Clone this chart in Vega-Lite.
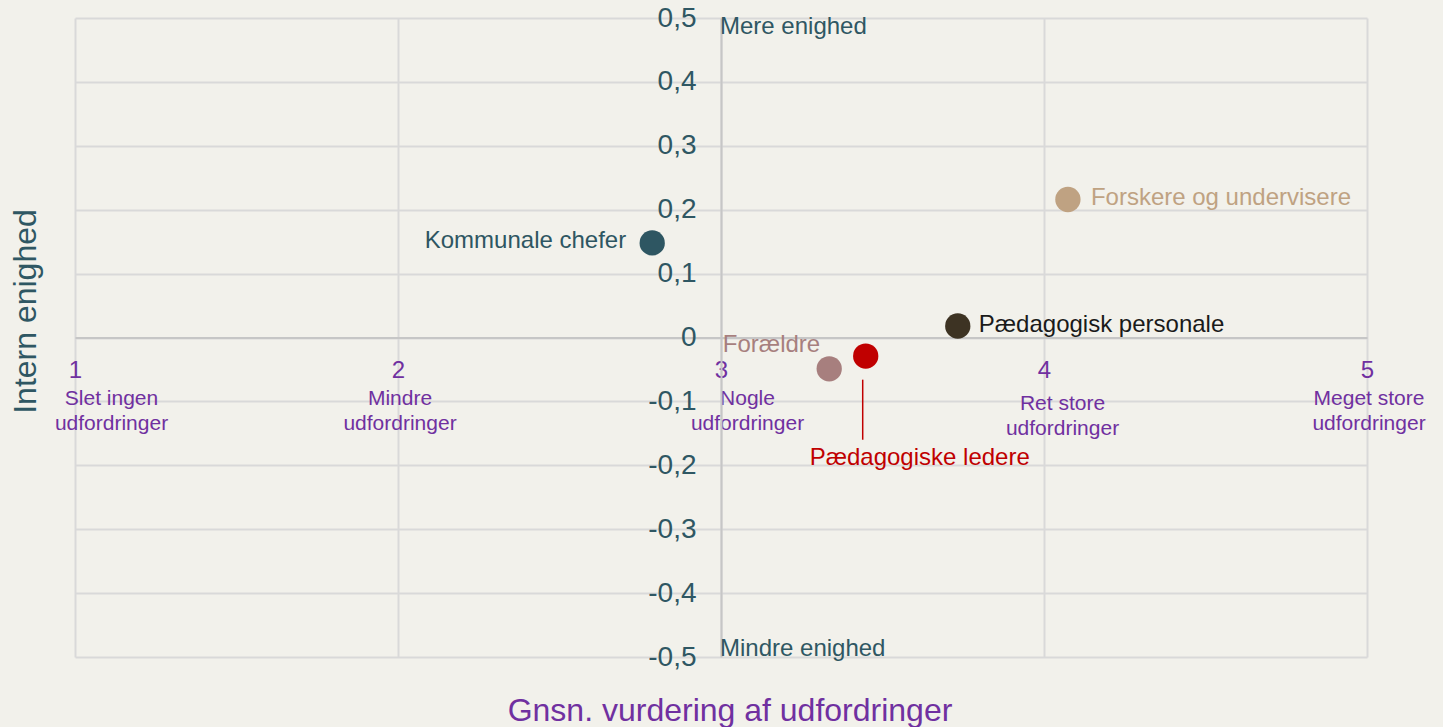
{
  "$schema": "https://vega.github.io/schema/vega-lite/v6.json",
  "width": 1292,
  "height": 639,
  "autosize": {"type": "none"},
  "padding": {"left": 75, "top": 18, "right": 76, "bottom": 70},
  "background": "#f2f1eb",
  "config": {"font": "Liberation Sans", "view": {"stroke": null}},
  "datasets": {
    "groups": [
      {"gruppe": "Kommunale chefer", "udfordringer": 2.787, "enighed": 0.148},
      {"gruppe": "Forskere og undervisere", "udfordringer": 4.074, "enighed": 0.216},
      {"gruppe": "Pædagogisk personale", "udfordringer": 3.733, "enighed": 0.018},
      {"gruppe": "Forældre", "udfordringer": 3.335, "enighed": -0.049},
      {"gruppe": "Pædagogiske ledere", "udfordringer": 3.448, "enighed": -0.029}
    ],
    "notes": [
      {"note": "Mere enighed", "udfordringer": 3, "enighed": 0.5},
      {"note": "Mindre enighed", "udfordringer": 3, "enighed": -0.5}
    ]
  },
  "resolve": {"axis": {"x": "independent", "y": "independent"}},
  "layer": [
    {
      "data": {"name": "groups"},
      "mark": {"type": "circle", "size": 640, "opacity": 1},
      "encoding": {
        "x": {
          "field": "udfordringer", "type": "quantitative",
          "scale": {"domain": [1, 5], "nice": false, "zero": false},
          "axis": {
            "orient": "bottom", "offset": -319.5, "values": [1, 2, 3, 4, 5], "title": null,
            "grid": true, "gridColor": "#d9d9d9", "gridWidth": 2,
            "domain": true, "domainColor": "#c6c6c6", "domainWidth": 2,
            "ticks": false, "tickSize": 0,
            "labelFontSize": 24, "labelColor": "#7030a0", "labelBaseline": "alphabetic",
            "labelPadding": 40, "labelFlush": false, "labelOverlap": false
          }
        },
        "y": {
          "field": "enighed", "type": "quantitative",
          "scale": {"domain": [-0.5, 0.5], "nice": false, "zero": false},
          "axis": {
            "orient": "left", "offset": -646, "title": null,
            "values": [-0.5, -0.4, -0.3, -0.2, -0.1, 0, 0.1, 0.2, 0.3, 0.4, 0.5],
            "labelExpr": "datum.value == 0 ? '0' : (datum.value < 0 ? '-' : '') + replace(format(abs(datum.value), '.1f'), '.', ',')",
            "grid": true, "gridColor": "#d9d9d9", "gridWidth": 2,
            "domain": true, "domainColor": "#c6c6c6", "domainWidth": 2,
            "ticks": false, "tickSize": 0,
            "labelFontSize": 28, "labelColor": "#2f5763", "labelPadding": 25,
            "labelFlush": false, "labelOverlap": false
          }
        },
        "color": {
          "field": "gruppe", "type": "nominal", "legend": null,
          "scale": {
            "domain": ["Kommunale chefer", "Forskere og undervisere", "Pædagogisk personale", "Forældre", "Pædagogiske ledere"],
            "range": ["#2e5662", "#bfa282", "#3d3323", "#a77f7e", "#c00000"]
          }
        }
      }
    },
    {
      "data": {"name": "notes"},
      "transform": [{"filter": "datum.note === 'Mere enighed'"}],
      "mark": {"type": "text", "align": "left", "baseline": "alphabetic", "dx": -1, "dy": 16, "fontSize": 24, "color": "#2f5763"},
      "encoding": {
        "x": {
          "field": "udfordringer", "type": "quantitative",
          "scale": {"domain": [1, 5], "nice": false, "zero": false},
          "axis": {
            "orient": "bottom", "offset": -319.5, "values": [1, 2, 3, 4, 5], "title": null,
            "labelExpr": "datum.value == 1 ? ['Slet ingen', 'udfordringer'] : datum.value == 2 ? ['Mindre', 'udfordringer'] : datum.value == 3 ? ['Nogle', 'udfordringer'] : datum.value == 4 ? ['Ret store', 'udfordringer'] : ['Meget store', 'udfordringer']",
            "grid": false, "domain": false, "ticks": false, "tickSize": 0,
            "labelFontSize": 21, "labelLineHeight": 25, "labelColor": "#7030a0",
            "labelBaseline": "alphabetic",
            "labelPadding": {"condition": {"test": "datum.value == 4", "value": 72}, "value": 67},
            "labelOffset": {"condition": [
              {"test": "datum.value == 1", "value": 36},
              {"test": "datum.value == 3", "value": 26},
              {"test": "datum.value == 4", "value": 18}
            ], "value": 1.5},
            "labelFlush": false, "labelOverlap": false
          }
        },
        "y": {
          "field": "enighed", "type": "quantitative",
          "scale": {"domain": [-0.5, 0.5], "nice": false, "zero": false},
          "axis": {
            "orient": "left", "title": "Intern enighed", "labels": false, "ticks": false,
            "domain": false, "grid": false,
            "titleFontSize": 32, "titleFontWeight": "normal", "titleColor": "#2f5763",
            "titleX": -40, "titleY": 293, "titleAngle": -90, "titleAlign": "center", "titleBaseline": "alphabetic"
          }
        },
        "text": {"field": "note"}
      }
    },
    {
      "data": {"name": "notes"},
      "transform": [{"filter": "datum.note === 'Mindre enighed'"}],
      "mark": {"type": "text", "align": "left", "baseline": "alphabetic", "dx": -1, "dy": -1, "fontSize": 24, "color": "#2f5763"},
      "encoding": {
        "x": {
          "field": "udfordringer", "type": "quantitative",
          "scale": {"domain": [1, 5], "nice": false, "zero": false},
          "axis": {
            "orient": "bottom", "title": "Gnsn. vurdering af udfordringer", "labels": false, "ticks": false,
            "domain": false, "grid": false,
            "titleFontSize": 32, "titleFontWeight": "normal", "titleColor": "#7030a0",
            "titleX": 654.5, "titleY": 63, "titleAlign": "center", "titleBaseline": "alphabetic"
          }
        },
        "y": {
          "field": "enighed", "type": "quantitative",
          "scale": {"domain": [-0.5, 0.5], "nice": false, "zero": false},
          "axis": null
        },
        "text": {"field": "note"}
      }
    },
    {
      "data": {"name": "groups"},
      "transform": [{"filter": "datum.gruppe === 'Kommunale chefer'"}],
      "mark": {"type": "text", "align": "right", "baseline": "alphabetic", "dx": -26, "dy": 5, "fontSize": 24, "color": "#2e5662"},
      "encoding": {
        "x": {"field": "udfordringer", "type": "quantitative", "scale": {"domain": [1, 5], "nice": false, "zero": false}, "axis": null},
        "y": {"field": "enighed", "type": "quantitative", "scale": {"domain": [-0.5, 0.5], "nice": false, "zero": false}, "axis": null},
        "text": {"field": "gruppe"}
      }
    },
    {
      "data": {"name": "groups"},
      "transform": [{"filter": "datum.gruppe === 'Forskere og undervisere'"}],
      "mark": {"type": "text", "align": "left", "baseline": "alphabetic", "dx": 23, "dy": 6, "fontSize": 24, "color": "#bfa282"},
      "encoding": {
        "x": {"field": "udfordringer", "type": "quantitative", "scale": {"domain": [1, 5], "nice": false, "zero": false}, "axis": null},
        "y": {"field": "enighed", "type": "quantitative", "scale": {"domain": [-0.5, 0.5], "nice": false, "zero": false}, "axis": null},
        "text": {"field": "gruppe"}
      }
    },
    {
      "data": {"name": "groups"},
      "transform": [{"filter": "datum.gruppe === 'Pædagogisk personale'"}],
      "mark": {"type": "text", "align": "left", "baseline": "alphabetic", "dx": 21, "dy": 6, "fontSize": 24, "color": "#1a1a1a"},
      "encoding": {
        "x": {"field": "udfordringer", "type": "quantitative", "scale": {"domain": [1, 5], "nice": false, "zero": false}, "axis": null},
        "y": {"field": "enighed", "type": "quantitative", "scale": {"domain": [-0.5, 0.5], "nice": false, "zero": false}, "axis": null},
        "text": {"field": "gruppe"}
      }
    },
    {
      "data": {"name": "groups"},
      "transform": [{"filter": "datum.gruppe === 'Forældre'"}],
      "mark": {"type": "text", "align": "right", "baseline": "alphabetic", "dx": -9, "dy": -17, "fontSize": 24, "color": "#a77f7e"},
      "encoding": {
        "x": {"field": "udfordringer", "type": "quantitative", "scale": {"domain": [1, 5], "nice": false, "zero": false}, "axis": null},
        "y": {"field": "enighed", "type": "quantitative", "scale": {"domain": [-0.5, 0.5], "nice": false, "zero": false}, "axis": null},
        "text": {"field": "gruppe"}
      }
    },
    {
      "data": {"name": "groups"},
      "transform": [{"filter": "datum.gruppe === 'Pædagogiske ledere'"}],
      "mark": {"type": "text", "align": "center", "baseline": "alphabetic", "dx": 54, "dy": 109, "fontSize": 24, "color": "#c00000"},
      "encoding": {
        "x": {"field": "udfordringer", "type": "quantitative", "scale": {"domain": [1, 5], "nice": false, "zero": false}, "axis": null},
        "y": {"field": "enighed", "type": "quantitative", "scale": {"domain": [-0.5, 0.5], "nice": false, "zero": false}, "axis": null},
        "text": {"field": "gruppe"}
      }
    },
    {
      "data": {"name": "groups"},
      "transform": [{"filter": "datum.gruppe === 'Pædagogiske ledere'"}],
      "mark": {"type": "rule", "color": "#c00000", "strokeWidth": 1.5, "xOffset": -3},
      "encoding": {
        "x": {"field": "udfordringer", "type": "quantitative", "scale": {"domain": [1, 5], "nice": false, "zero": false}, "axis": null},
        "y": {"datum": -0.066, "type": "quantitative", "scale": {"domain": [-0.5, 0.5], "nice": false, "zero": false}, "axis": null},
        "y2": {"datum": -0.16}
      }
    }
  ]
}
